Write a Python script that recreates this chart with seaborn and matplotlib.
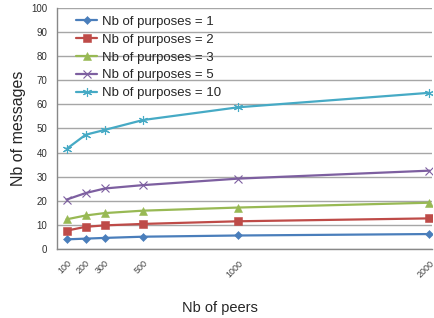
import matplotlib
matplotlib.use("Agg")
import matplotlib.pyplot as plt
import numpy as np
import pandas as pd
import seaborn as sns

peers = [100, 200, 300, 500, 1000, 2000]
purposes_1 = [4.0, 4.3, 4.6, 5.1, 5.6, 6.2]
purposes_2 = [7.6, 9.2, 9.8, 10.4, 11.5, 12.7]
purposes_3 = [12.3, 13.9, 14.9, 15.9, 17.2, 19.2]
purposes_5 = [20.5, 23.2, 25.1, 26.5, 29.2, 32.5]
purposes_10 = [41.5, 47.4, 49.4, 53.5, 58.8, 64.8]

series_names = ["Nb of purposes = 1", "Nb of purposes = 2", "Nb of purposes = 3",
                "Nb of purposes = 5", "Nb of purposes = 10"]
series_values = [purposes_1, purposes_2, purposes_3, purposes_5, purposes_10]
colors = ["#4A7EBB", "#BE4B48", "#98B954", "#7D5FA0", "#46AAC5"]
markers = ["D", "s", "^", "x", (6, 2, 0)]
msizes = [3.8, 6, 6, 6, 6.5]

df = pd.concat(
    [pd.DataFrame({"peers": peers, "messages": v, "series": n})
     for n, v in zip(series_names, series_values)],
    ignore_index=True,
)

sns.set_style("white")
plt.rcParams["font.family"] = ["Liberation Sans", "DejaVu Sans"]

fig = plt.figure(figsize=(4.35, 3.18), dpi=100)
ax = fig.add_axes([0.131, 0.217, 0.862, 0.758])

for name, col, mk, ms in zip(series_names, colors, markers, msizes):
    sub = df[df["series"] == name]
    thin = mk in ("x", (6, 2, 0))
    sns.lineplot(data=sub, x="peers", y="messages", ax=ax, color=col, marker=mk,
                 markersize=ms, markeredgecolor=col,
                 markeredgewidth=0.8 if thin else 0.4,
                 linewidth=1.6, label=name)

ax.set_xlim(50, 2013)
ax.set_ylim(0, 100)
ax.set_yticks(np.arange(0, 101, 10))
ax.set_xticks(peers)
ax.set_xticks(np.arange(50, 2013, 100), minor=True)
ax.set_xticklabels([str(p) for p in peers], rotation=45, ha="right",
                   rotation_mode="anchor", fontsize=6.5, color="#404040")
ax.tick_params(axis="x", which="major", length=0, pad=7)
ax.tick_params(axis="x", which="minor", length=4, color="#888888", direction="out")
ax.tick_params(axis="y", length=4, color="#888888", direction="out", labelsize=7,
               labelcolor="#303030", pad=3)
ax.grid(axis="y", color="#A6A6A6", linewidth=1)
ax.set_axisbelow(True)
for s in ["top", "right"]:
    ax.spines[s].set_visible(False)
for s in ["left", "bottom"]:
    ax.spines[s].set_color("#888888")
    ax.spines[s].set_linewidth(1)

ax.set_xlabel("Nb of peers", fontsize=10.5)
ax.xaxis.set_label_coords(0.435, -0.215)
ax.set_ylabel("Nb of messages", fontsize=11.5, labelpad=4)

leg = ax.legend(loc="upper left", bbox_to_anchor=(0.03, 1.0), frameon=False,
                fontsize=9.5, handlelength=1.6, handletextpad=0.35,
                labelspacing=0.42, borderaxespad=0.2)

fig.savefig("out.png", dpi=100)
